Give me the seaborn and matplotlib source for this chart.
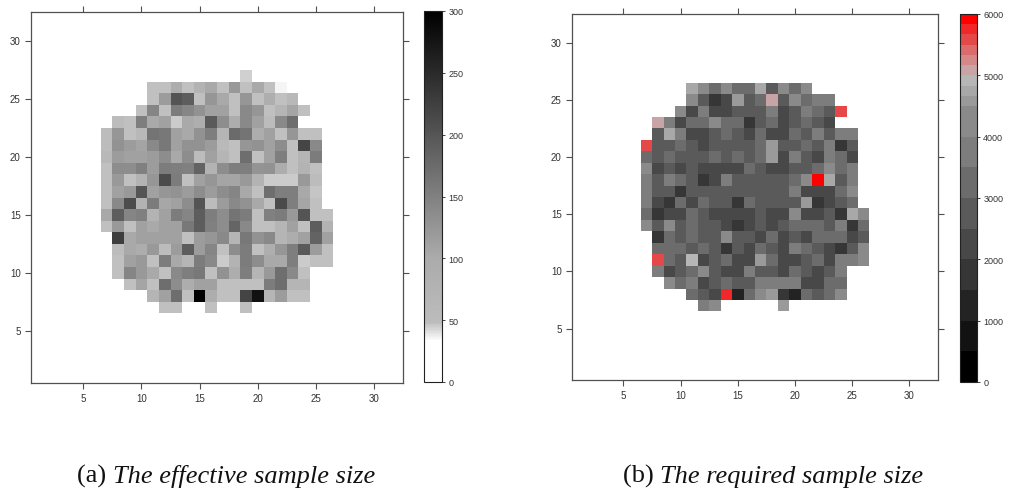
import numpy as np
import pandas as pd
import matplotlib
matplotlib.use("Agg")
import matplotlib.pyplot as plt
import seaborn as sns
from matplotlib.colors import LinearSegmentedColormap, ListedColormap, BoundaryNorm

sns.set_theme(style="white")
plt.rcParams["font.family"] = ["Liberation Sans", "DejaVu Sans"]

NAN = np.nan
GRID_N = 32
axis_ticks = [5, 10, 15, 20, 25, 30]

# ---------------- (a) effective sample size ----------------
ess_rows = [27, 26, 25, 24, 23, 22, 21, 20, 19, 18, 17, 16, 15, 14, 13, 12, 11, 10, 9, 8, 7]
ess_start = [19, 11, 11, 10, 8, 7, 7, 7, 7, 7, 7, 7, 7, 7, 8, 8, 8, 8, 9, 11, 12]
ess_values = [
    [44],
    [48, 47, 95, 47, 75, 103, 48, 121, 48, 103, 48, 36],
    [48, 118, 201, 192, 48, 125, 103, 48, 125, 47, 90, 48, 60],
    [48, 145, 47, 155, 143, 130, 112, 112, 48, 140, 125, 48, 70, 107, 48],
    [50, 48, 153, 103, 112, 45, 103, 90, 195, 135, 95, 140, 112, 50, 140, 172],
    [50, 125, 47, 60, 165, 160, 112, 103, 130, 153, 70, 175, 165, 95, 112, 47, 125, 48, 48],
    [50, 130, 118, 108, 140, 160, 112, 130, 130, 118, 58, 47, 125, 130, 112, 135, 48, 218, 140],
    [60, 118, 112, 112, 118, 135, 103, 135, 50, 112, 70, 47, 172, 48, 112, 153, 48, 70, 155],
    [48, 135, 135, 150, 118, 155, 153, 150, 185, 75, 135, 153, 153, 127, 130, 95, 47, 75, 47],
    [48, 121, 47, 75, 125, 212, 155, 47, 112, 125, 107, 107, 121, 75, 45, 45, 45, 121, 50],
    [48, 112, 121, 201, 112, 125, 130, 118, 135, 118, 135, 145, 103, 47, 172, 153, 153, 103, 46],
    [48, 140, 210, 75, 155, 105, 112, 135, 201, 50, 118, 140, 130, 103, 47, 212, 153, 107, 48],
    [103, 192, 145, 150, 75, 112, 155, 145, 192, 153, 135, 165, 155, 47, 150, 155, 121, 201, 47, 47],
    [48, 121, 47, 112, 103, 112, 112, 160, 192, 150, 135, 182, 140, 48, 48, 70, 112, 47, 192, 75],
    [227, 103, 112, 112, 112, 112, 47, 118, 125, 140, 70, 160, 130, 140, 70, 95, 112, 185, 112],
    [50, 103, 95, 121, 50, 118, 192, 118, 145, 47, 135, 155, 48, 90, 125, 153, 195, 118, 47],
    [47, 112, 121, 47, 155, 103, 70, 155, 140, 45, 75, 155, 135, 103, 103, 153, 45, 47, 47],
    [47, 145, 121, 103, 47, 140, 153, 160, 47, 130, 95, 153, 70, 121, 172, 140, 48],
    [48, 107, 48, 172, 135, 95, 112, 112, 48, 47, 47, 48, 155, 172, 70, 70],
    [70, 112, 172, 48, 300, 95, 47, 47, 220, 280, 70, 118, 48, 47],
    [47, 47, NAN, NAN, 47, NAN, NAN, 47],
]
ess_cbar_ticks = [0, 50, 100, 150, 200, 250, 300]

# ---------------- (b) required sample size ----------------
req_rows = [26, 25, 24, 23, 22, 21, 20, 19, 18, 17, 16, 15, 14, 13, 12, 11, 10, 9, 8, 7]
req_start = [11, 11, 10, 8, 8, 7, 7, 7, 7, 7, 7, 7, 7, 8, 8, 8, 8, 9, 11, 12]
req_values = [
    [4750, 4250, 3250, 4250, 3250, 3250, 4750, 2750, 4250, 3250, 4250],
    [4250, 2750, 1750, 2250, 4580, 2750, 3250, 5080, 2750, 4250, 3250, 3750, 3750],
    [4250, 2250, 3750, 2250, 2250, 2750, 2750, 2750, 3750, 2250, 2750, 3750, 3250, 2750, 5580],
    [5080, 3750, 2250, 3250, 3250, 4250, 3250, 3250, 1750, 2750, 3250, 2250, 2750, 3250, 2750, 2250],
    [2750, 4750, 3750, 2250, 2250, 2750, 3250, 2750, 2250, 3250, 2250, 2250, 3250, 2750, 3750, 2750, 3750, 3750],
    [5580, 2750, 2750, 3250, 2750, 2250, 2750, 2750, 2750, 2750, 3250, 4580, 2750, 2750, 3250, 2750, 3750, 1750, 2750],
    [3250, 2750, 3250, 2750, 2750, 2750, 3250, 2750, 3250, 2750, 3250, 4580, 2250, 3750, 2750, 2250, 3750, 3250, 2250],
    [4250, 2250, 2750, 2250, 2750, 2250, 2250, 2250, 2250, 3250, 2750, 2250, 2250, 2750, 2750, 3250, 4250, 3250, 3750],
    [3750, 2750, 3750, 3250, 2750, 1750, 2250, 3750, 2750, 2750, 2750, 2750, 2750, 3250, 4250, 5920, 4750, 2750, 3750],
    [3750, 2750, 2750, 1750, 2750, 2750, 2750, 2750, 2750, 2750, 2750, 2750, 2750, 3750, 2250, 2250, 2250, 3250, 4250],
    [3750, 2250, 1750, 3250, 2250, 3250, 2750, 2750, 1750, 3250, 2750, 2750, 2750, 2750, 4580, 1750, 2250, 2750, 3250],
    [3250, 1750, 2250, 2250, 3250, 2750, 2250, 2250, 2250, 2250, 2750, 2250, 2250, 4250, 2250, 2250, 2750, 1750, 4750, 4250],
    [4250, 2750, 4250, 2750, 3250, 2750, 2750, 2250, 1750, 2250, 2750, 2250, 2750, 3250, 3250, 3250, 2750, 3750, 1750, 3250],
    [1750, 3250, 2750, 3250, 2750, 2750, 4250, 2750, 2750, 2250, 3250, 2250, 2750, 2250, 3250, 3250, 3250, 2250, 2750],
    [3250, 3250, 3250, 2750, 3250, 2750, 1750, 2750, 2250, 3250, 2750, 2250, 3750, 3250, 2750, 2250, 1750, 2750, 4250],
    [5580, 3250, 2750, 4920, 2250, 2750, 3250, 2250, 2250, 4580, 3250, 2250, 2250, 2750, 3250, 2250, 3750, 3750, 4250],
    [3750, 2250, 2750, 3250, 4250, 2750, 2250, 2250, 3750, 2750, 2750, 2250, 3250, 2750, 2250, 2750, 3750],
    [4250, 3250, 3750, 2250, 2750, 3250, 2750, 2750, 3750, 3750, 3750, 3750, 2250, 2250, 3250, 3250],
    [3250, 2750, 2250, 5750, 1250, 3250, 4250, 4580, 1750, 1250, 3250, 2750, 3250, 4250],
    [3750, 4250, NAN, NAN, NAN, NAN, NAN, 4580],
]
req_bounds = [0, 500, 1000, 1500, 2000, 2500, 3000, 3500, 4000, 4500,
              4667, 4833, 5000, 5167, 5333, 5500, 5667, 5833, 6000]
req_colors = ["#000000", "#121212", "#232323", "#363636", "#484848", "#5a5a5a",
              "#6c6c6c", "#7d7d7d", "#8a8a8a", "#9a9a9a", "#a8a8a8", "#b6b6b6",
              "#c8a4a6", "#d48888", "#dc6c6c", "#e44848", "#f02828", "#ff0000"]
req_cbar_ticks = [0, 1000, 2000, 3000, 4000, 5000, 6000]

captions = [("(a)", "The effective sample size"), ("(b)", "The required sample size")]


def build_grid(rows, starts, vals):
    grid = np.full((GRID_N, GRID_N), np.nan)
    for r, s, v in zip(rows, starts, vals):
        grid[r - 1, s - 1:s - 1 + len(v)] = v
    return pd.DataFrame(grid, index=range(1, GRID_N + 1), columns=range(1, GRID_N + 1))


ess_df = build_grid(ess_rows, ess_start, ess_values)
req_df = build_grid(req_rows, req_start, req_values)

ess_cmap = LinearSegmentedColormap.from_list(
    "ess", [(0.0, "#ffffff"), (33 / 300, "#ffffff"), (48 / 300, "#bcbcbc"),
            (100 / 300, "#ababab"), (1.0, "#000000")])
req_cmap = ListedColormap(req_colors)
req_norm = BoundaryNorm(req_bounds, ncolors=len(req_colors))

W, H = 1009, 502
fig = plt.figure(figsize=(W / 100, H / 100), dpi=100)


def frac(x0, y0, x1, y1):
    return [x0 / W, 1 - y1 / H, (x1 - x0) / W, (y1 - y0) / H]


FRAME = "#505050"
TXT = "#333333"


def style_axes(ax):
    ax.set_xlim(0, GRID_N)
    ax.set_ylim(0, GRID_N)
    pos = [t - 0.5 for t in axis_ticks]
    ax.set_xticks(pos)
    ax.set_xticklabels([str(t) for t in axis_ticks], rotation=0)
    ax.set_yticks(pos)
    ax.set_yticklabels([str(t) for t in axis_ticks], rotation=0)
    ax.set_xlabel("")
    ax.set_ylabel("")
    for s in ax.spines.values():
        s.set_visible(True)
        s.set_color(FRAME)
        s.set_linewidth(0.9)
    ax.tick_params(axis="both", which="both", direction="out", length=4.5, width=0.8,
                   color=FRAME, labelsize=7, labelcolor=TXT, top=True, right=True,
                   bottom=True, left=True, labeltop=False, labelright=False, pad=3)


def style_cbar(cb):
    cb.ax.minorticks_off()
    cb.outline.set_edgecolor("#222222")
    cb.outline.set_linewidth(0.8)
    cb.ax.tick_params(which="major", direction="out", length=2.5, width=0.6,
                      color="#222222", labelsize=6.5, labelcolor=TXT, pad=2)
    cb.ax.tick_params(which="minor", length=0)


# panel (a)
ax1 = fig.add_axes(frac(31, 13, 403, 384))
sns.heatmap(ess_df, ax=ax1, cmap=ess_cmap, vmin=0, vmax=300, cbar=False,
            linewidths=0)
style_axes(ax1)
cax1 = fig.add_axes(frac(424, 12, 442, 383))
cb1 = fig.colorbar(ax1.collections[0], cax=cax1, ticks=ess_cbar_ticks)
style_cbar(cb1)

# panel (b)
ax2 = fig.add_axes(frac(572, 15, 938, 381))
sns.heatmap(req_df, ax=ax2, cmap=req_cmap, norm=req_norm, cbar=False, linewidths=0)
style_axes(ax2)
cax2 = fig.add_axes(frac(960, 15, 977, 383))
cb2 = fig.colorbar(ax2.collections[0], cax=cax2, ticks=req_cbar_ticks,
                   spacing="proportional")
style_cbar(cb2)
cb2.set_ticks(req_cbar_ticks)
cb2.ax.yaxis.set_minor_locator(matplotlib.ticker.NullLocator())

# captions: upright label + italic text, centred as a whole
fig.canvas.draw()
renderer = fig.canvas.get_renderer()
cap_centres = [226, 773]
cap_base = 483
cap_size = 19
for (lab, txt), cx in zip(captions, cap_centres):
    t1 = fig.text(0, 1 - cap_base / H, lab + " ", fontsize=cap_size,
                  family=["Liberation Serif", "DejaVu Serif"], va="baseline", ha="left",
                  color="#111111")
    t2 = fig.text(0, 1 - cap_base / H, txt, fontsize=cap_size, style="italic",
                  family=["Liberation Serif", "DejaVu Serif"], va="baseline", ha="left",
                  color="#111111")
    w1 = t1.get_window_extent(renderer).width
    w2 = t2.get_window_extent(renderer).width
    x0 = cx - (w1 + w2) / 2
    t1.set_x(x0 / W)
    t2.set_x((x0 + w1) / W)

fig.savefig("out.png", dpi=100)
